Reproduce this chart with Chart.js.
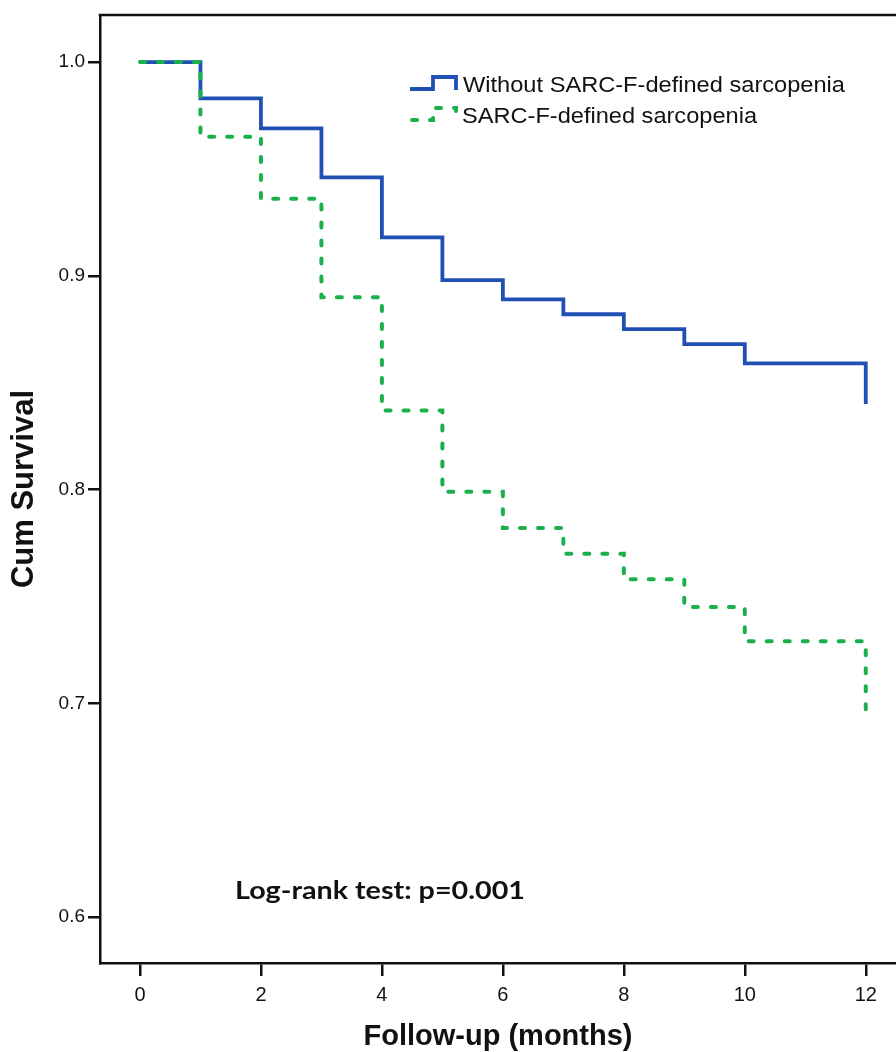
<!DOCTYPE html>
<html><head><meta charset="utf-8">
<script src="https://cdn.jsdelivr.net/npm/chart.js@4.4.1/dist/chart.umd.min.js"></script>
<style>html,body{margin:0;padding:0;background:#fff;} #wrap{width:896px;height:1052px;position:relative;}</style>
</head><body><div id="wrap"><canvas id="c" width="896" height="1052"></canvas></div>
<script>
// ---- data ----
const months = [0, 1, 2, 3, 4, 5, 6, 7, 8, 9, 10, 12];
const withoutSarcopenia = [1.000, 0.983, 0.969, 0.946, 0.918, 0.898, 0.889, 0.882, 0.875, 0.868, 0.859, 0.840];
const withSarcopenia    = [1.000, 0.965, 0.936, 0.890, 0.837, 0.799, 0.782, 0.770, 0.758, 0.745, 0.729, 0.697];
const seriesNames = ['Without SARC-F-defined sarcopenia', 'SARC-F-defined sarcopenia'];
const xTicks = [0, 2, 4, 6, 8, 10, 12];
const yTicks = [0.6, 0.7, 0.8, 0.9, 1.0];
const xTitle = 'Follow-up (months)';
const yTitle = 'Cum Survival';
const annotationText = 'Log-rank test: p=0.001';

const BLUE = '#2150b5';
const GREEN = '#1bb04b';
const INK = '#111111';

function pts(arr) { return months.map((m, i) => ({ x: m, y: arr[i] })); }

function drawStretched(ctx, txt, x, baseline, font, targetWidth) {
  ctx.save();
  ctx.font = font;
  const w = ctx.measureText(txt).width;
  ctx.translate(x, baseline);
  ctx.scale(targetWidth / w, 1);
  ctx.textBaseline = 'alphabetic';
  ctx.textAlign = 'left';
  ctx.fillStyle = INK;
  ctx.fillText(txt, 0, 0);
  ctx.restore();
}

const decor = {
  id: 'decor',
  afterDraw(chart) {
    const ctx = chart.ctx;
    const a = chart.chartArea;
    ctx.save();
    // top frame line
    ctx.strokeStyle = INK; ctx.lineWidth = 2.5;
    ctx.beginPath(); ctx.moveTo(a.left - 1.25, a.top); ctx.lineTo(a.right + 2, a.top); ctx.stroke();
    // legend icons
    ctx.lineJoin = 'miter';
    ctx.strokeStyle = BLUE; ctx.lineWidth = 3.8; ctx.setLineDash([]);
    ctx.beginPath(); ctx.moveTo(410, 89); ctx.lineTo(433, 89); ctx.lineTo(433, 77); ctx.lineTo(456, 77); ctx.lineTo(456, 90); ctx.stroke();
    ctx.strokeStyle = GREEN; ctx.lineWidth = 4; ctx.lineCap = 'round'; ctx.setLineDash([5, 13]);
    ctx.beginPath(); ctx.moveTo(412, 120); ctx.lineTo(433, 120); ctx.lineTo(433, 108); ctx.lineTo(456, 108); ctx.lineTo(456, 120); ctx.stroke();
    ctx.restore();
    drawStretched(ctx, seriesNames[0], 463, 92, '22px "Liberation Sans", Arial, sans-serif', 382);
    drawStretched(ctx, seriesNames[1], 462, 123, '22px "Liberation Sans", Arial, sans-serif', 295);
    drawStretched(ctx, annotationText, 235, 899, 'bold 24px Lato, "Open Sans", sans-serif', 290);
  }
};

new Chart(document.getElementById('c'), {
  type: 'line',
  data: {
    datasets: [
      { label: seriesNames[0], data: pts(withoutSarcopenia), stepped: 'before', borderColor: BLUE, borderWidth: 3.8,
        pointRadius: 0, fill: false, order: 1, borderJoinStyle: 'miter' },
      { label: seriesNames[1], data: pts(withSarcopenia), stepped: 'before', borderColor: GREEN, borderWidth: 4,
        borderDash: [5, 13], borderCapStyle: 'round', pointRadius: 0, fill: false, order: 0 }
    ]
  },
  options: {
    responsive: false, animation: false, devicePixelRatio: 1,
    layout: { padding: { top: 15, right: 0, left: 0, bottom: 0 } },
    plugins: { legend: { display: false }, tooltip: { enabled: false } },
    scales: {
      x: {
        type: 'linear', min: -0.661, max: 12.5,
        afterBuildTicks: s => { s.ticks = xTicks.map(v => ({ value: v })); },
        afterFit: s => { s.height = 89; },
        grid: { display: true, drawOnChartArea: false, drawTicks: true, tickLength: 13, color: INK, lineWidth: 2.5 },
        border: { display: true, color: INK, width: 2.5 },
        ticks: { color: INK, padding: 7, font: { family: '"Liberation Sans", Arial, sans-serif', size: 20 }, maxRotation: 0 },
        title: { display: true, text: xTitle, color: INK, font: { family: '"Liberation Sans", Arial, sans-serif', size: 29, weight: 'bold', lineHeight: 1 }, padding: { top: 0, bottom: 1 } }
      },
      y: {
        type: 'linear', min: 0.5785, max: 1.022,
        afterBuildTicks: s => { s.ticks = yTicks.map(v => ({ value: v })); },
        afterFit: s => { s.width = 100; },
        grid: { display: true, drawOnChartArea: false, drawTicks: true, tickLength: 12, color: INK, lineWidth: 2.5 },
        border: { display: true, color: INK, width: 2.5 },
        ticks: { color: INK, padding: 3, font: { family: '"Liberation Sans", Arial, sans-serif', size: 19 }, callback: v => v.toFixed(1) },
        title: { display: true, text: yTitle, color: INK, font: { family: '"Liberation Sans", Arial, sans-serif', size: 31, weight: 'bold', lineHeight: 1 }, padding: { top: 9, bottom: 0 } }
      }
    }
  },
  plugins: [decor]
});
</script>
</body></html>
